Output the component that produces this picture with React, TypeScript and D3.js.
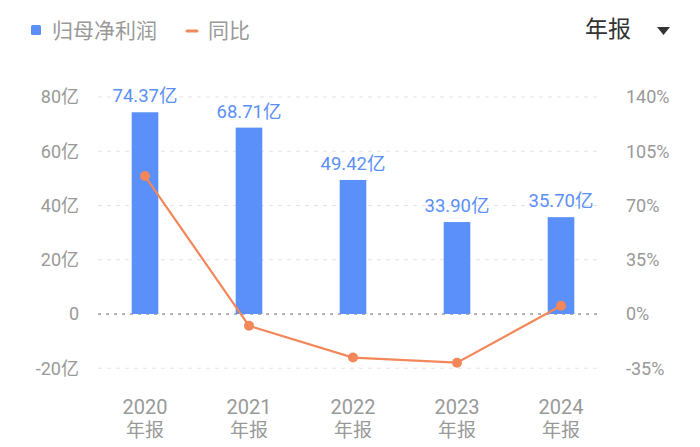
import React from "react";
import * as d3 from "d3";

const years = ["2020", "2021", "2022", "2023", "2024"];
const profit = [74.37, 68.71, 49.42, 33.9, 35.7]; // 亿
const yoy = [89.0, -7.6, -28.1, -31.4, 5.3]; // %
const leftTicks = [-20, 0, 20, 40, 60, 80];
const rightTicks = [-35, 0, 35, 70, 105, 140];

const FONT = "Roboto, 'Noto Sans CJK SC', sans-serif";
const BAR = "#5b8ff9";
const LINE = "#f4875a";
const GRAY = "#999";

export default function App() {
  const width = 700,
    height = 447;

  const x = d3.scaleBand().domain(years).range([93, 613]).paddingInner(0.744).paddingOuter(0.372);
  const yL = d3.scaleLinear().domain([-20, 80]).range([368.25, 97]);
  const yR = d3.scaleLinear().domain([-35, 140]).range([368.25, 97]);
  const cx = (d: string) => (x(d) as number) + x.bandwidth() / 2;

  const line = d3
    .line<number>()
    .x((_, i) => cx(years[i]))
    .y((d) => yR(d));

  return (
    <svg width={width} height={height} style={{ display: "block", margin: -8 }} fontFamily={FONT}>
      {/* legend */}
      <rect x={31} y={25} width={10} height={10} rx={1.5} fill={BAR} />
      <text x={52} y={38} fontSize={21} fill={GRAY}>归母净利润</text>
      <line x1={187} x2={197} y1={31} y2={31} stroke={LINE} strokeWidth={3} strokeLinecap="round" />
      <text x={208} y={38} fontSize={21} fill={GRAY}>同比</text>
      <text x={585} y={37} fontSize={23} fill="#333">年报</text>
      <path d="M657,27 L670,27 L663.5,35 Z" fill="#333" />

      {/* grid */}
      {leftTicks.map((t) => (
        <line
          key={t}
          x1={98}
          x2={602}
          y1={yL(t)}
          y2={yL(t)}
          stroke={t === 0 ? "#9a9a9a" : "#e3e3e3"}
          strokeWidth={t === 0 ? 1.6 : 1.2}
          strokeDasharray={t === 0 ? "3,5" : "4,5"}
        />
      ))}

      {/* left axis */}
      {leftTicks.map((t) => (
        <text key={t} x={79} y={yL(t)} dy="0.36em" textAnchor="end" fontSize={18} fill={GRAY}>
          {t === 0 ? "0" : `${t}亿`}
        </text>
      ))}
      {/* right axis */}
      {rightTicks.map((t) => (
        <text key={t} x={626} y={yR(t)} dy="0.36em" textAnchor="start" fontSize={18} fill={GRAY}>
          {`${t}%`}
        </text>
      ))}

      {/* bars */}
      {profit.map((v, i) => (
        <g key={years[i]}>
          <rect x={x(years[i])} y={yL(v)} width={x.bandwidth()} height={yL(0) - yL(v)} fill={BAR} />
          <text x={cx(years[i])} y={yL(v) - 10} textAnchor="middle" fontSize={18.5} fill="#5b8ff9">
            {`${v.toFixed(2)}亿`}
          </text>
        </g>
      ))}

      {/* yoy line */}
      <path d={line(yoy) || ""} fill="none" stroke={LINE} strokeWidth={2.2} />
      {yoy.map((v, i) => (
        <circle key={years[i]} cx={cx(years[i])} cy={yR(v)} r={5} fill={LINE} />
      ))}

      {/* x axis labels */}
      {years.map((y) => (
        <g key={y}>
          <text x={cx(y)} y={414} textAnchor="middle" fontSize={20} fill={GRAY}>{y}</text>
          <text x={cx(y)} y={437} textAnchor="middle" fontSize={19} fill={GRAY}>年报</text>
        </g>
      ))}
    </svg>
  );
}
